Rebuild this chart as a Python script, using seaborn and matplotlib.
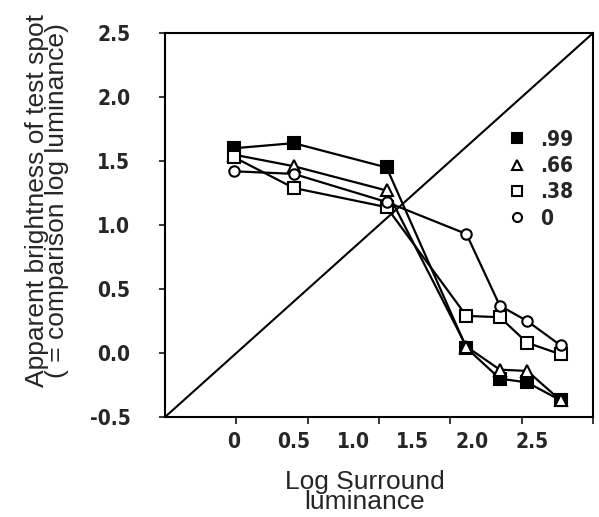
import numpy as np
import pandas as pd
import matplotlib
matplotlib.use("Agg")
import matplotlib.pyplot as plt
from matplotlib.lines import Line2D
import seaborn as sns

# log surround luminance (positions as labelled on the x axis)
surround = [0.0, 0.5, 1.28, 1.95, 2.23, 2.46, 2.74]

# apparent brightness for each reflectance of the test spot
levels = [".99", ".66", ".38", "0"]
b_99 = [1.60, 1.64, 1.45, 0.04, -0.20, -0.23, -0.37]
b_66 = [1.55, 1.46, 1.27, 0.05, -0.13, -0.14, -0.37]
b_38 = [1.53, 1.29, 1.14, 0.29, 0.28, 0.08, -0.01]
b_0 = [1.42, 1.40, 1.18, 0.93, 0.37, 0.25, 0.06]

y_ticks = [-0.5, 0.0, 0.5, 1.0, 1.5, 2.0, 2.5]
x_ticks = [0, 0.5, 1.0, 1.5, 2.0, 2.5]
x_ticklabels = ["0", "0.5", "1.0", "1.5", "2.0", "2.5"]

rows = []
for lev, vals in zip(levels, [b_99, b_66, b_38, b_0]):
    for x, y in zip(surround, vals):
        rows.append({"surround": x, "brightness": y, "level": lev})
df = pd.DataFrame(rows)

sns.set_style("white")
plt.rcParams["font.family"] = ["Liberation Sans", "DejaVu Sans"]

fig = plt.figure(figsize=(5.99, 5.17), dpi=100)
ax = fig.add_axes([0.2755, 0.1934, 0.7145, 0.7426])

markers = {".99": "s", ".66": "^", ".38": "s", "0": "o"}
faces = {".99": "black", ".66": "white", ".38": "white", "0": "white"}
sizes = {".99": 8.5, ".66": 8, ".38": 8, "0": 7.5}

for lev in levels:
    sub = df[df["level"] == lev]
    sns.lineplot(data=sub, x="surround", y="brightness", ax=ax, color="black",
                 lw=1.6, marker=markers[lev], markersize=sizes[lev],
                 markerfacecolor=faces[lev], markeredgecolor="black",
                 markeredgewidth=1.5, zorder=3)

x0, x1 = -0.579, 3.012
ax.set_xlim(x0, x1)
ax.set_ylim(-0.5, 2.5)

# identity diagonal, corner to corner
ax.plot([0, 1], [0, 1], transform=ax.transAxes, color="black", lw=1.5, zorder=2)

tick_font = {"family": "DejaVu Sans", "stretch": "condensed", "weight": "bold", "size": 15}
ax.set_yticks(y_ticks)
ax.set_yticklabels([f"{t:.1f}" for t in y_ticks], fontdict=tick_font)
ax.set_xticks(x_ticks)
ax.set_xticklabels(x_ticklabels, fontdict=tick_font)
# tick marks divide the axis into six equal parts
ax.set_xticks([x0 + (x1 - x0) * k / 6 for k in range(1, 7)], minor=True)
ax.tick_params(axis="x", which="major", length=0, pad=11)
ax.tick_params(axis="x", which="minor", length=5, width=1.3, direction="out", bottom=True)
ax.tick_params(axis="y", length=4, width=1.3, direction="out", left=True, pad=21)

for s in ax.spines.values():
    s.set_linewidth(1.5)
    s.set_color("black")

ax.set_xlabel("Log Surround\nluminance", fontsize=19, linespacing=0.82)
ax.xaxis.set_label_coords(0.467, -0.137)
ax.set_ylabel("Apparent brightness of test spot\n( = comparison log luminance)",
              fontsize=19, linespacing=0.78)
ax.yaxis.set_label_coords(-0.225, 0.565)

handles = [Line2D([], [], ls="none", marker=markers[l], markersize=sizes[l] - 1,
                  markerfacecolor=faces[l], markeredgecolor="black",
                  markeredgewidth=1.5) for l in levels]
ax.legend(handles, levels, loc="upper left", bbox_to_anchor=(0.755, 0.797),
          frameon=False, handlelength=1.0, handletextpad=0.6, labelspacing=0.3,
          prop={"family": "DejaVu Sans", "stretch": "condensed", "weight": "bold", "size": 15})

fig.savefig("out.png", dpi=100)
